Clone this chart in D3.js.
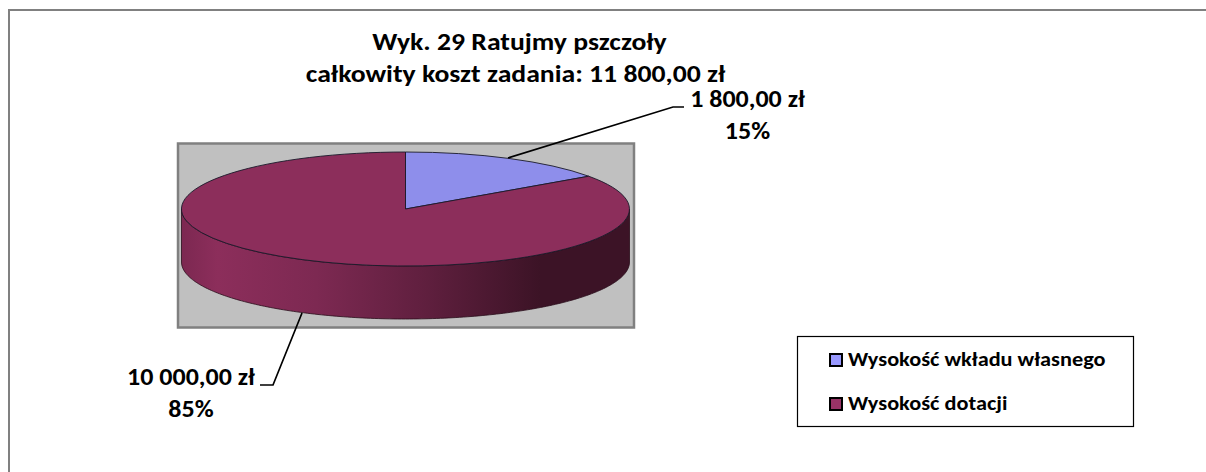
<!DOCTYPE html>
<html lang="pl">
<head>
<meta charset="utf-8">
<script src="https://cdn.jsdelivr.net/npm/d3@7/dist/d3.min.js"></script>
<style>
html,body{margin:0;padding:0;background:#fff;}
svg{display:block;}
text{font-family:Carlito,Calibri,"Open Sans","Noto Sans",sans-serif;font-weight:700;fill:#000;}
</style>
</head>
<body>
<svg id="c" width="1206" height="472"></svg>
<script>
const categories = ["Wysokość wkładu własnego", "Wysokość dotacji"];
const values = [1800, 10000];
const valueLabels = ["1 800,00 zł", "10 000,00 zł"];
const percentLabels = ["15%", "85%"];
const colors = ["#8e8eeb", "#8c2e5b"];
const legendColors = ["#9999ff", "#993366"];
const titleLines = ["Wyk. 29 Ratujmy pszczoły", "całkowity koszt zadania: 11 800,00 zł"];

const svg = d3.select("#c");
const cx = 405.5, cy = 209, rx = 224, ry = 57, depth = 53;

// outer frame: top and left edges
svg.append("path").attr("d",d3.line()([[9,472],[9,10],[1206,10]]))
  .attr("fill","none").attr("stroke","#808080").attr("stroke-width",2);

svg.append("rect").attr("x",178).attr("y",143.5).attr("width",456).attr("height",184)
  .attr("fill","#c0c0c0").attr("stroke","#808080").attr("stroke-width",2.5);

const defs = svg.append("defs");
const grad = defs.append("linearGradient").attr("id","side").attr("gradientUnits","userSpaceOnUse")
  .attr("x1",cx-rx).attr("x2",cx+rx).attr("y1",0).attr("y2",0);
[[0,"#7c2851"],[0.08,"#8c2e5b"],[0.3,"#7d2952"],[0.55,"#5f1f3e"],[0.8,"#3c1326"],[1,"#3c1326"]]
  .forEach(s=>grad.append("stop").attr("offset",s[0]).attr("stop-color",s[1]));

const arcs = d3.pie().sort(null)(values);
const sx = d3.scaleLinear().domain([-1,1]).range([cx-rx,cx+rx]);
const sy = d3.scaleLinear().domain([-1,1]).range([cy-ry,cy+ry]);

// side wall
const th = d3.range(0,181).map(i=>Math.PI/2 + i*Math.PI/180);
const side = d3.area().x(t=>sx(Math.sin(t))).y0(t=>sy(-Math.cos(t))).y1(t=>sy(-Math.cos(t))+depth);
svg.append("path").attr("d",side(th)).attr("fill","url(#side)").attr("stroke","#2a0d1b").attr("stroke-width",0.8);

// top slices
const arcGen = d3.arc().innerRadius(0).outerRadius(1);
const g = svg.append("g").attr("transform",`translate(${cx},${cy}) scale(${rx},${ry})`);
g.selectAll("path").data(arcs).join("path")
  .attr("d",arcGen).attr("fill",(d,i)=>colors[i])
  .attr("stroke","#1a1a2a").attr("stroke-width",0.9).attr("vector-effect","non-scaling-stroke");

// leader lines
const leader = d3.line();
svg.append("path").attr("d",leader([[508,158],[673,107],[684,107]])).attr("fill","none").attr("stroke","#000").attr("stroke-width",1.7);
svg.append("path").attr("d",leader([[302,313],[273,385],[260,385]])).attr("fill","none").attr("stroke","#000").attr("stroke-width",1.7);

// text drawn with a horizontal stretch to match the reference's wide lettering
function stretched(parent, x, y, str, size, sxf, anchor){
  return parent.append("text").attr("transform",`translate(${x},${y}) scale(${sxf},1)`)
    .attr("text-anchor",anchor||"middle").attr("font-size",size).text(str);
}
titleLines.forEach((t,i)=>stretched(svg,(i?515.5:519.5),50+i*32,t,25,1.108));

// data labels
const labelPos = [[747.5,[107,139]],[191,[385,417]]];
arcs.forEach((d,i)=>{
  stretched(svg,labelPos[i][0],labelPos[i][1][0],valueLabels[i],25,1.04);
  stretched(svg,labelPos[i][0],labelPos[i][1][1],percentLabels[i],25,1.04);
});

// legend
svg.append("rect").attr("x",797.5).attr("y",336.5).attr("width",336).attr("height",90)
  .attr("fill","#fff").attr("stroke","#000").attr("stroke-width",1.2);
const lg = svg.append("g").selectAll("g").data(categories).join("g")
  .attr("transform",(d,i)=>`translate(0,${360+i*44})`);
lg.append("rect").attr("x",830).attr("y",-6).attr("width",12).attr("height",12)
  .attr("fill",(d,i)=>legendColors[i]).attr("stroke","#000").attr("stroke-width",2);
lg.each(function(d){ stretched(d3.select(this),848,6,d,21,1.062,"start"); });
</script>
</body>
</html>
